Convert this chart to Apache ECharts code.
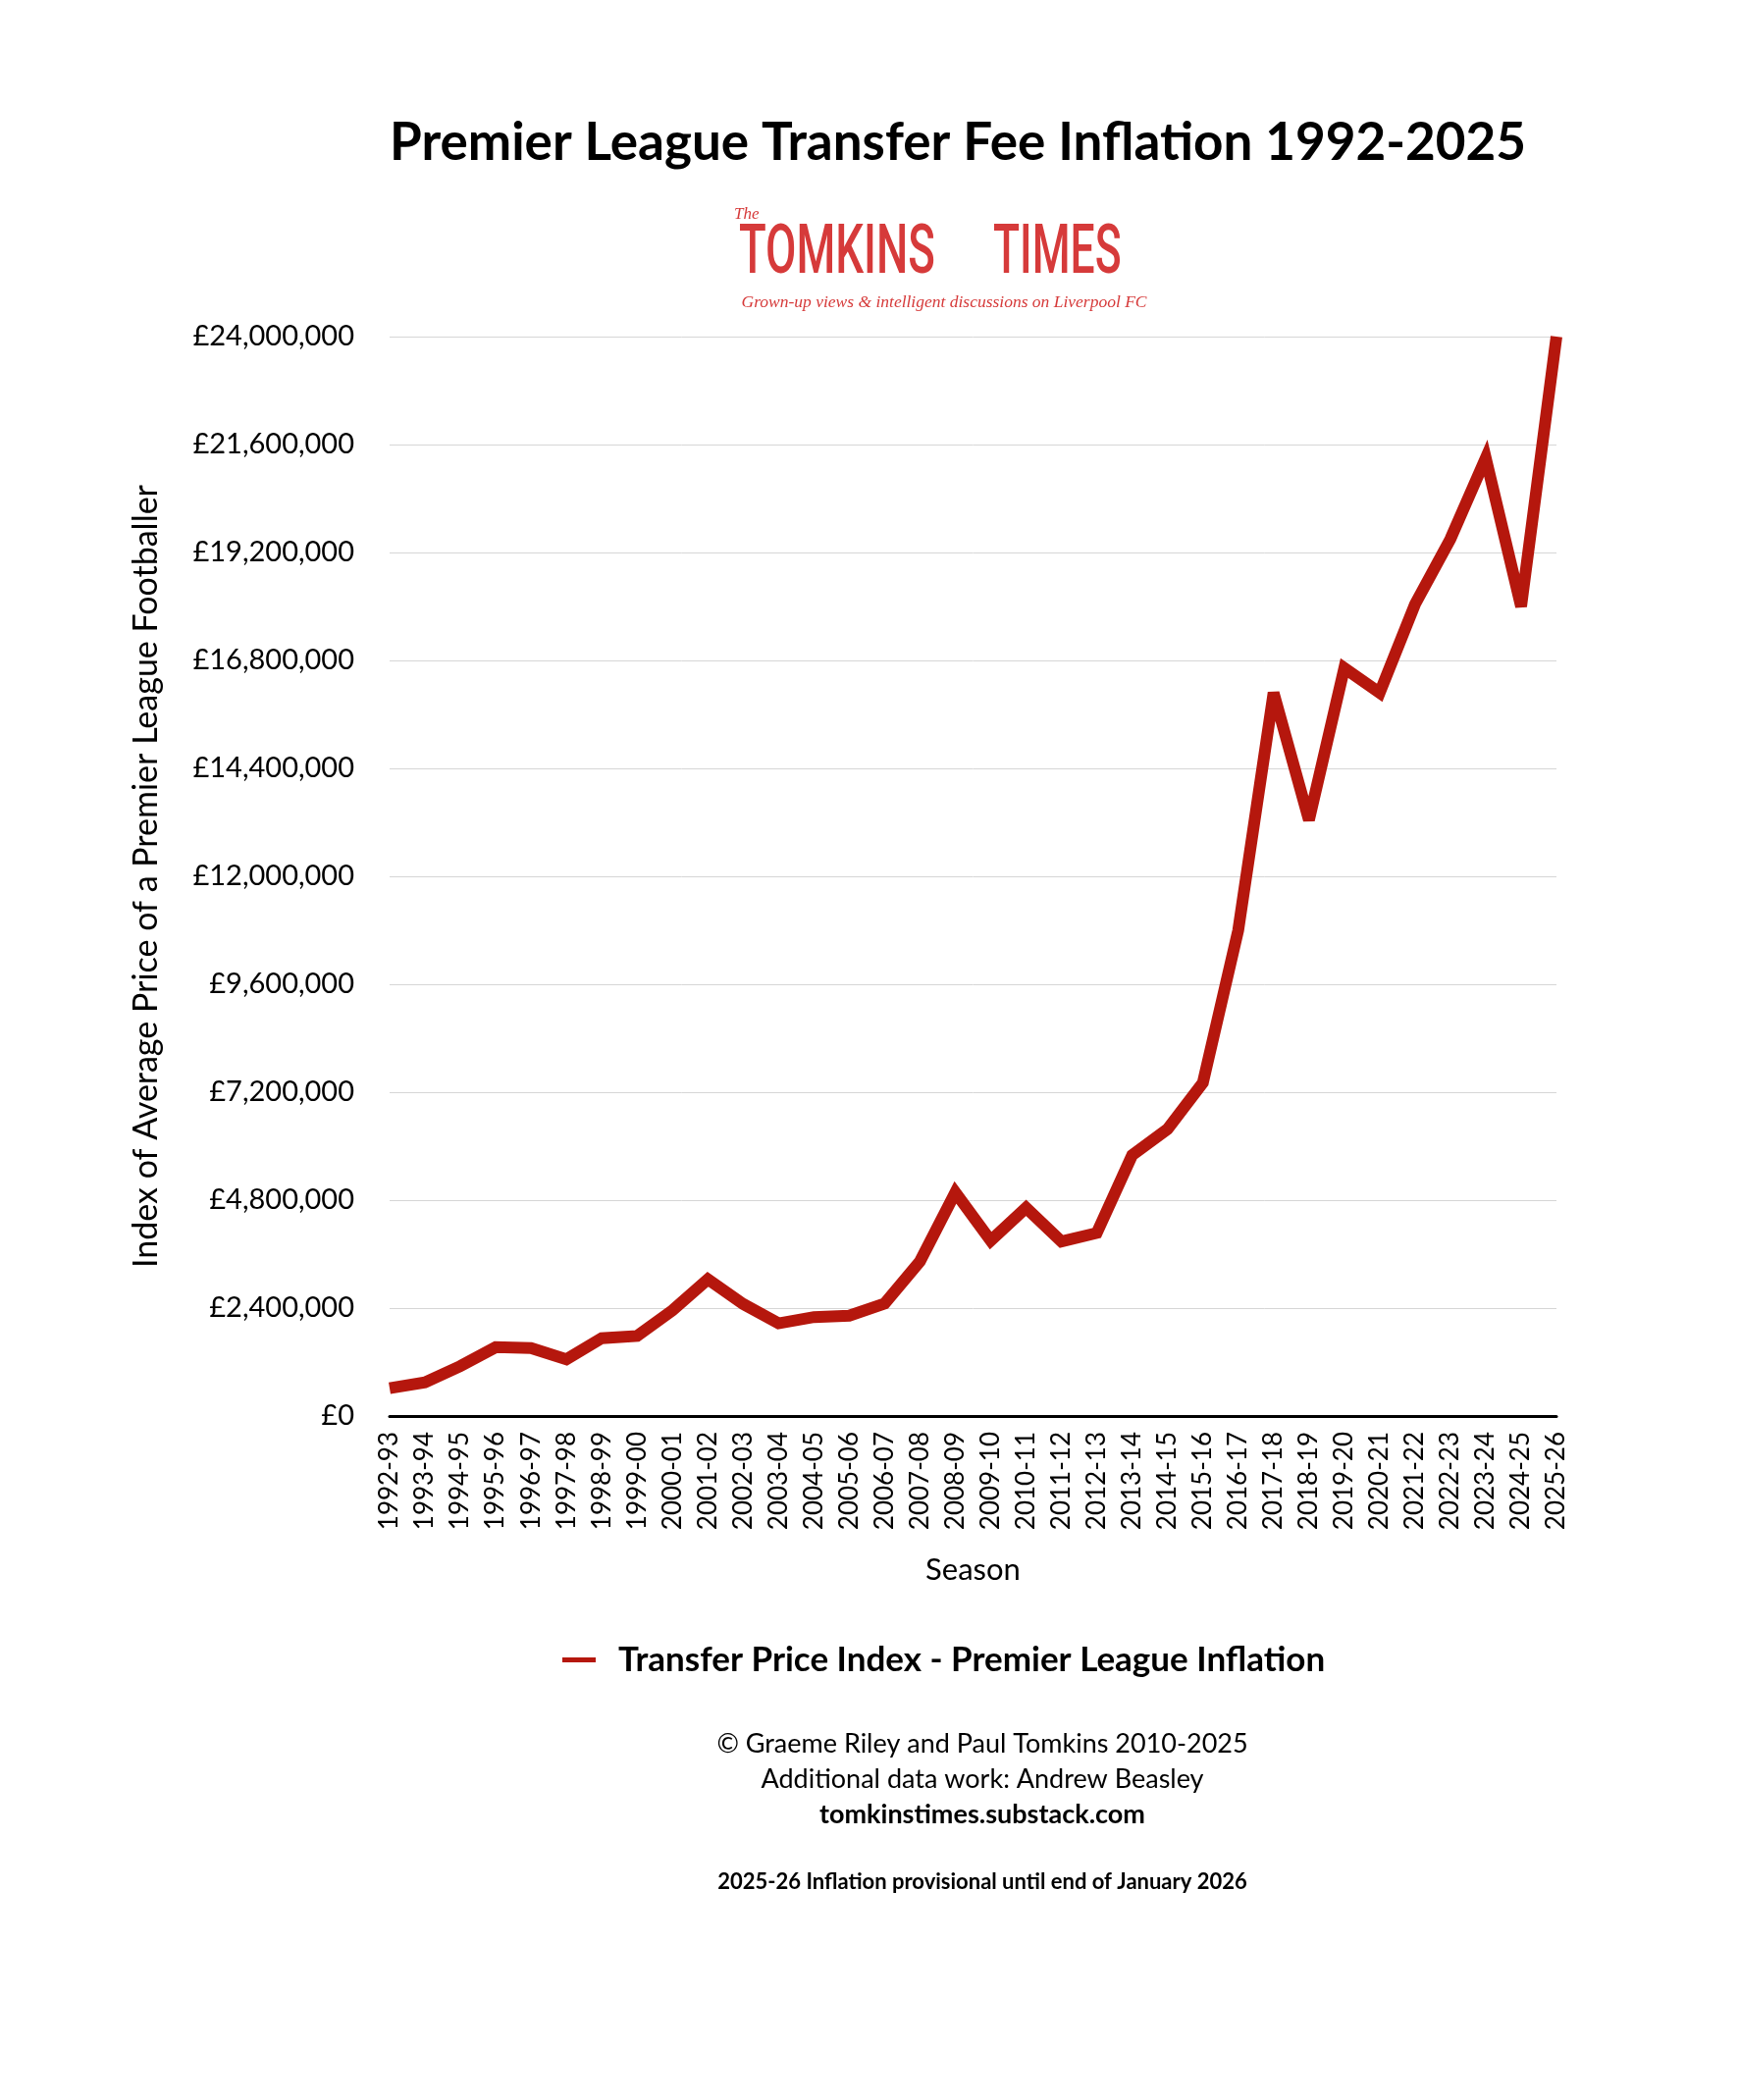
<!DOCTYPE html>
<html>
<head>
<meta charset="utf-8">
<title>Premier League Transfer Fee Inflation 1992-2025</title>
<script src="https://cdn.jsdelivr.net/npm/echarts@6/dist/echarts.min.js"></script>
<style>
    html,body{margin:0;padding:0;background:#fff;}
    #chart{width:1772px;height:2140px;}
</style>
</head>
<body>
<div id="chart"></div>
<script>
// 赛季
var seasons = ['1992-93','1993-94','1994-95','1995-96','1996-97','1997-98','1998-99','1999-00',
    '2000-01','2001-02','2002-03','2003-04','2004-05','2005-06','2006-07','2007-08','2008-09',
    '2009-10','2010-11','2011-12','2012-13','2013-14','2014-15','2015-16','2016-17','2017-18',
    '2018-19','2019-20','2020-21','2021-22','2022-23','2023-24','2024-25','2025-26'];
// Transfer Price Index (£)
var tpiValues = [620000,750000,1110000,1530000,1510000,1260000,1730000,1780000,
    2350000,3040000,2490000,2060000,2200000,2230000,2500000,3440000,4970000,
    3900000,4630000,3880000,4070000,5800000,6380000,7410000,10800000,16080000,
    13250000,16630000,16080000,18050000,19500000,21300000,18000000,24000000];
var seriesName = 'Transfer Price Index - Premier League Inflation';
var yMax = 24000000, yStep = 2400000;

var footerLines = [
    '\u00a9 Graeme Riley and Paul Tomkins 2010-2025',
    'Additional data work: Andrew Beasley'
];
var footerLink = 'tomkinstimes.substack.com';
var footNote = '2025-26 Inflation provisional until end of January 2026';

var FONT = 'Lato, "Noto Sans", sans-serif';
var RED = '#b5170d';
var LOGO_RED = '#d63a3a';

function money(v){
    return '\u00a3' + Number(v).toLocaleString('en-GB');
}

var chart = echarts.init(document.getElementById('chart'));

var option = {
    backgroundColor:'#fff',
    animation:false,
    textStyle:{fontFamily:FONT},
    grid:{left:397, right:186, top:343, bottom:697, containLabel:false},
    legend:{
        data:[seriesName],
        left:568, top:1669,
        icon:'rect', itemWidth:34, itemHeight:5,
        textStyle:{fontFamily:FONT, fontSize:35, fontWeight:'bold', color:'#000', padding:[0,0,0,18]}
    },
    xAxis:{
        type:'category',
        data:seasons,
        boundaryGap:false,
        name:'Season',
        nameLocation:'middle',
        nameGap:141,
        nameTextStyle:{fontFamily:FONT, fontSize:31, color:'#000'},
        axisLine:{lineStyle:{color:'#000', width:3}},
        axisTick:{show:false},
        axisLabel:{rotate:90, fontSize:26, color:'#000', margin:16, interval:0}
    },
    yAxis:{
        type:'value',
        min:0, max:yMax, interval:yStep,
        name:'Index of Average Price of a Premier League Footballer',
        nameLocation:'middle',
        nameRotate:90,
        nameGap:231,
        nameTextStyle:{fontFamily:FONT, fontSize:34, color:'#000'},
        axisLine:{show:false},
        axisTick:{show:false},
        axisLabel:{fontSize:29, color:'#000', margin:36, formatter:money},
        splitLine:{lineStyle:{color:'#d6d6d6', width:1}}
    },
    series:[{
        name:seriesName,
        type:'line',
        data:tpiValues,
        symbol:'none',
        clip:false,
        color:RED,
        lineStyle:{color:RED, width:12, join:'miter', miterLimit:4, cap:'butt'}
    }],
    graphic:[
        {type:'text', x:976, y:146, style:{text:'Premier League Transfer Fee Inflation 1992-2025',
            font:'bold 53px ' + FONT, fill:'#000', textAlign:'center', textVerticalAlign:'middle'}},
        // logo（文字部分）
        {type:'text', x:748, y:219, style:{text:'The', font:'italic 17px "Liberation Serif", serif',
            fill:LOGO_RED, textAlign:'left', textVerticalAlign:'middle'}},
        {type:'text', x:753, y:260, scaleX:0.65, style:{text:'TOMKINS', font:'500 70px Roboto, sans-serif',
            fill:LOGO_RED, textAlign:'left', textVerticalAlign:'middle'}},
        {type:'text', x:1012, y:260, scaleX:0.635, style:{text:'TIMES', font:'500 70px Roboto, sans-serif',
            fill:LOGO_RED, textAlign:'left', textVerticalAlign:'middle'}},
        {type:'text', x:962, y:308, style:{text:'Grown-up views & intelligent discussions on Liverpool FC',
            font:'italic 17.5px "Liberation Serif", serif', fill:LOGO_RED, textAlign:'center', textVerticalAlign:'middle'}},
        // 版权信息
        {type:'text', x:1001, y:1777, style:{text:footerLines[0], font:'27px ' + FONT, fill:'#000',
            textAlign:'center', textVerticalAlign:'middle'}},
        {type:'text', x:1001, y:1813, style:{text:footerLines[1], font:'27px ' + FONT, fill:'#000',
            textAlign:'center', textVerticalAlign:'middle'}},
        {type:'text', x:1001, y:1849, style:{text:footerLink, font:'bold 27px ' + FONT, fill:'#000',
            textAlign:'center', textVerticalAlign:'middle'}},
        {type:'text', x:1001, y:1918, style:{text:footNote, font:'bold 22px ' + FONT, fill:'#000',
            textAlign:'center', textVerticalAlign:'middle'}}
    ]
};

chart.setOption(option);
</script>
</body>
</html>
